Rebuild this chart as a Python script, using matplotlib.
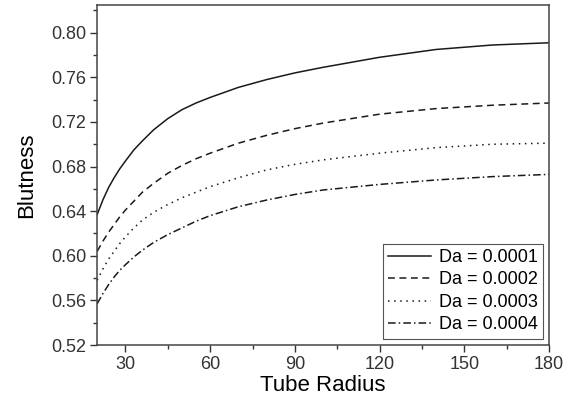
import matplotlib
matplotlib.use("Agg")
import matplotlib.pyplot as plt
from matplotlib.ticker import MultipleLocator

plt.rcParams['font.family'] = ['Liberation Sans', 'DejaVu Sans']

# valores
raio = [20, 22, 24, 26, 28, 30, 33, 36, 40, 45, 50, 55, 60, 70, 80, 90, 100,
        120, 140, 160, 180]
da_0001 = [0.637, 0.650, 0.661, 0.670, 0.678, 0.685, 0.695, 0.703, 0.713, 0.723,
           0.731, 0.737, 0.742, 0.751, 0.758, 0.764, 0.769, 0.778, 0.785, 0.789,
           0.791]
da_0002 = [0.604, 0.613, 0.621, 0.628, 0.635, 0.641, 0.649, 0.657, 0.665, 0.674,
           0.681, 0.687, 0.692, 0.701, 0.708, 0.714, 0.719, 0.727, 0.732, 0.735,
           0.737]
da_0003 = [0.578, 0.588, 0.597, 0.604, 0.611, 0.617, 0.625, 0.632, 0.639, 0.646,
           0.652, 0.657, 0.662, 0.670, 0.677, 0.682, 0.686, 0.692, 0.697, 0.700,
           0.701]
da_0004 = [0.557, 0.566, 0.574, 0.581, 0.587, 0.592, 0.599, 0.605, 0.612, 0.619,
           0.625, 0.631, 0.636, 0.644, 0.650, 0.655, 0.659, 0.664, 0.668, 0.671,
           0.673]
rotulos = ["Da = 0.0001", "Da = 0.0002", "Da = 0.0003", "Da = 0.0004"]

fig = plt.figure(figsize=(5.65, 4.04), dpi=100)
ax = fig.add_axes([0.172, 0.146, 0.800, 0.842])

cor = "#1a1a1a"
ax.plot(raio, da_0001, color=cor, lw=1.1, linestyle='-', label=rotulos[0])
ax.plot(raio, da_0002, color=cor, lw=1.1, linestyle=(0, (4.5, 3)), label=rotulos[1])
ax.plot(raio, da_0003, color=cor, lw=1.1, linestyle=(0, (1, 3)), label=rotulos[2])
ax.plot(raio, da_0004, color=cor, lw=1.1, linestyle=(0, (5, 2, 1, 2)), label=rotulos[3])

ax.set_xlim(20, 180)
ax.set_ylim(0.52, 0.825)
ax.xaxis.set_major_locator(MultipleLocator(30))
ax.xaxis.set_minor_locator(MultipleLocator(15))
ax.yaxis.set_major_locator(MultipleLocator(0.04))
ax.yaxis.set_minor_locator(MultipleLocator(0.02))
ax.yaxis.set_major_formatter(plt.FormatStrFormatter('%.2f'))

ax.tick_params(which='major', direction='out', length=5, width=1, labelsize=13,
               colors='#333333', pad=3)
ax.tick_params(which='minor', direction='out', length=3, width=1, colors='#333333')
for s in ax.spines.values():
    s.set_color('#444444')
    s.set_linewidth(1.1)

ax.set_xlabel("Tube Radius", fontsize=16, labelpad=1)
ax.set_ylabel("Blutness", fontsize=16, labelpad=10)

leg = ax.legend(loc='lower right', fontsize=13, handlelength=2.4, handletextpad=0.4,
                borderaxespad=0.35, fancybox=False, framealpha=1,
                labelspacing=0.3, borderpad=0.3)
leg.get_frame().set_edgecolor('#555555')
leg.get_frame().set_linewidth(0.8)

plt.savefig("out.png", dpi=100)
